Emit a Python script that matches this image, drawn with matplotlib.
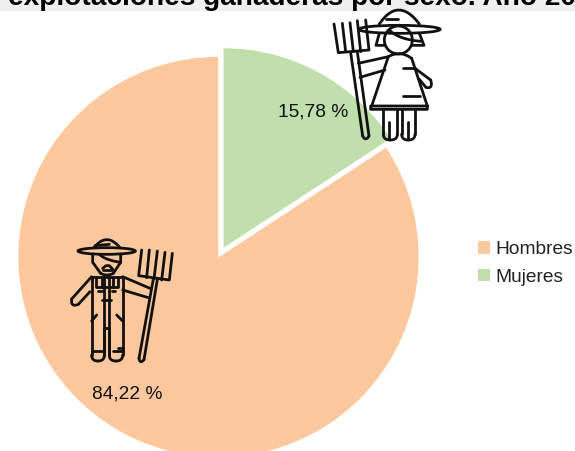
import numpy as np
import matplotlib
matplotlib.use("Agg")
import matplotlib.pyplot as plt
from matplotlib.patches import Ellipse, Circle

categories = ["Hombres", "Mujeres"]
values = [84.22, 15.78]
colors = ["#FDC89D", "#C1DFAC"]
title_text = "explotaciones ganaderas por sexo. Año 20"

W, H = 575, 451
plt.rcParams["font.family"] = ["Liberation Sans", "DejaVu Sans"]
fig = plt.figure(figsize=(W / 100, H / 100), dpi=100)
ax = fig.add_axes([0, 0, 1, 1])

R = 200.5
wedges, _ = ax.pie(values, colors=colors, startangle=90, radius=R,
                   center=(218.5, H - 257), explode=[0, 9.8],
                   wedgeprops=dict(edgecolor="white", linewidth=0.5))
ax.set_xlim(0, W)
ax.set_ylim(0, H)
ax.set_aspect("equal")
ax.axis("off")

# title band, cropped at the top of the picture
ax.axhspan(H - 11, H, color="#EFEFED", zorder=0.5, lw=0)
ax.text(8, H - 5.2, title_text, fontsize=20.2, fontweight="bold", color="black",
        ha="left", va="baseline", zorder=5, clip_on=False)

label_pos = [(127, 394), (313, 112)]
for v, (x, y) in zip(values, label_pos):
    ax.text(x, H - y, f"{v:.2f} %".replace(".", ","), fontsize=13.8, color="#111111",
            ha="center", va="center", zorder=6)

ax.legend(wedges, categories, loc="center left", frameon=False,
          bbox_to_anchor=(478, H - 263.5), bbox_transform=ax.transData,
          fontsize=13.8, handlelength=0.62, handleheight=0.62, handletextpad=0.3,
          labelspacing=0.55, borderpad=0, borderaxespad=0, labelcolor="#222222")
for p in ax.get_legend().get_patches():
    p.set_edgecolor("none")


# ---- decorative pictograms, drawn from zoom-crop coordinates ----
def quad(p0, c, p1, n=14):
    t = np.linspace(0, 1, n)[:, None]
    return (1 - t) ** 2 * np.array(p0) + 2 * t * (1 - t) * np.array(c) + t ** 2 * np.array(p1)


class Icon:
    def __init__(self, ox, oy, lw=2.0):
        self.ox, self.oy, self.lw = ox, oy, lw

    def xy(self, pts):
        a = np.asarray(pts, float)
        return self.ox + a[:, 0] / 3, H - (self.oy + a[:, 1] / 3)

    def line(self, *pts):
        x, y = self.xy(pts)
        ax.plot(x, y, color="#111111", lw=self.lw, solid_capstyle="round",
                solid_joinstyle="round", zorder=4)

    def curve(self, p0, c, p1):
        x, y = self.xy(quad(p0, c, p1))
        ax.plot(x, y, color="#111111", lw=self.lw, solid_capstyle="round", zorder=4)

    def ellipse(self, c, w, h, fill="none"):
        x, y = self.xy([c])
        ax.add_patch(Ellipse((x[0], y[0]), w / 3, h / 3, fc=fill, ec="#111111", lw=self.lw, zorder=4))

    def boot(self, a, b, top, low):
        mid = (a + b) / 2
        self.line((a, top), (a, low - 18))
        self.curve((a, low - 18), (a, low), (mid, low))
        self.curve((mid, low), (b, low), (b, low - 18))
        self.line((b, low - 18), (b, top))


# woman
w = Icon(300, 0)
w.ellipse((298, 88), 245, 24)
w.curve((238, 72), (295, -12), (358, 72))
w.line((258, 58), (295, 58))
w.line((238, 100), (228, 136), (255, 136))
w.line((358, 100), (372, 136), (335, 136))
x0, y0 = w.xy([(295, 120)])
ax.add_patch(Circle((x0[0], y0[0]), 14, fc="none", ec="#111111", lw=2.0, zorder=4))
w.curve((268, 90), (295, 118), (362, 124))
w.line((102, 72), (115, 158), (207, 150), (197, 60))
w.line((127, 70), (137, 155))
w.line((150, 68), (160, 155))
w.line((172, 62), (182, 155))
w.line((152, 158), (188, 408))
w.line((172, 155), (207, 408))
w.curve((188, 408), (197, 425), (207, 408))
w.line((175, 190), (265, 170))
w.line((180, 232), (255, 210))
w.curve((265, 170), (300, 150), (335, 175))
w.line((335, 175), (382, 318), (212, 318), (212, 328), (382, 328), (382, 318))
w.line((265, 170), (215, 318))
w.line((308, 205), (345, 205))
w.line((308, 287), (360, 287))
w.line((345, 205), (392, 240))
w.curve((392, 240), (400, 268), (378, 262))
w.line((378, 262), (358, 238))
w.boot(250, 292, 328, 420)
w.boot(305, 345, 328, 420)
w.line((268, 365), (268, 415))
w.line((325, 365), (325, 415))

# man
m = Icon(50, 225)
m.ellipse((170, 78), 172, 20)
m.curve((132, 68), (170, 20), (210, 68))
m.line((135, 62), (178, 58))
m.line((128, 88), (128, 112), (152, 145))
m.line((212, 88), (212, 112), (190, 145))
m.curve((148, 88), (165, 105), (212, 112))
m.curve((152, 145), (170, 155), (190, 145))
m.line((158, 130), (168, 122), (178, 122), (188, 132))
m.line((160, 135), (185, 135))
m.line((125, 155), (218, 155))
m.line((137, 155), (137, 185), (205, 185), (205, 155))
m.line((155, 155), (155, 185))
m.line((190, 155), (190, 185))
m.line((145, 197), (155, 197))
m.line((185, 197), (195, 197))
m.line((155, 225), (182, 225))
m.line((125, 288), (140, 270))
m.line((218, 288), (200, 270))
m.line((125, 378), (155, 378))
m.line((190, 378), (218, 378))
m.line((205, 368), (218, 368))
m.boot(125, 163, 155, 408)
m.boot(178, 218, 155, 408)
m.line((163, 390), (163, 308), (178, 308), (178, 390))
m.line((125, 155), (65, 222))
m.curve((65, 222), (62, 248), (85, 238))
m.line((85, 238), (120, 200))
m.line((218, 155), (300, 190))
m.line((218, 195), (295, 218))
m.line((275, 75), (266, 152), (358, 165), (367, 85))
m.line((298, 75), (290, 158))
m.line((322, 78), (312, 162))
m.line((345, 82), (335, 165))
m.line((310, 162), (267, 400))
m.line((322, 164), (282, 404))
m.curve((267, 400), (270, 418), (282, 404))

fig.savefig("out.png", dpi=100)
